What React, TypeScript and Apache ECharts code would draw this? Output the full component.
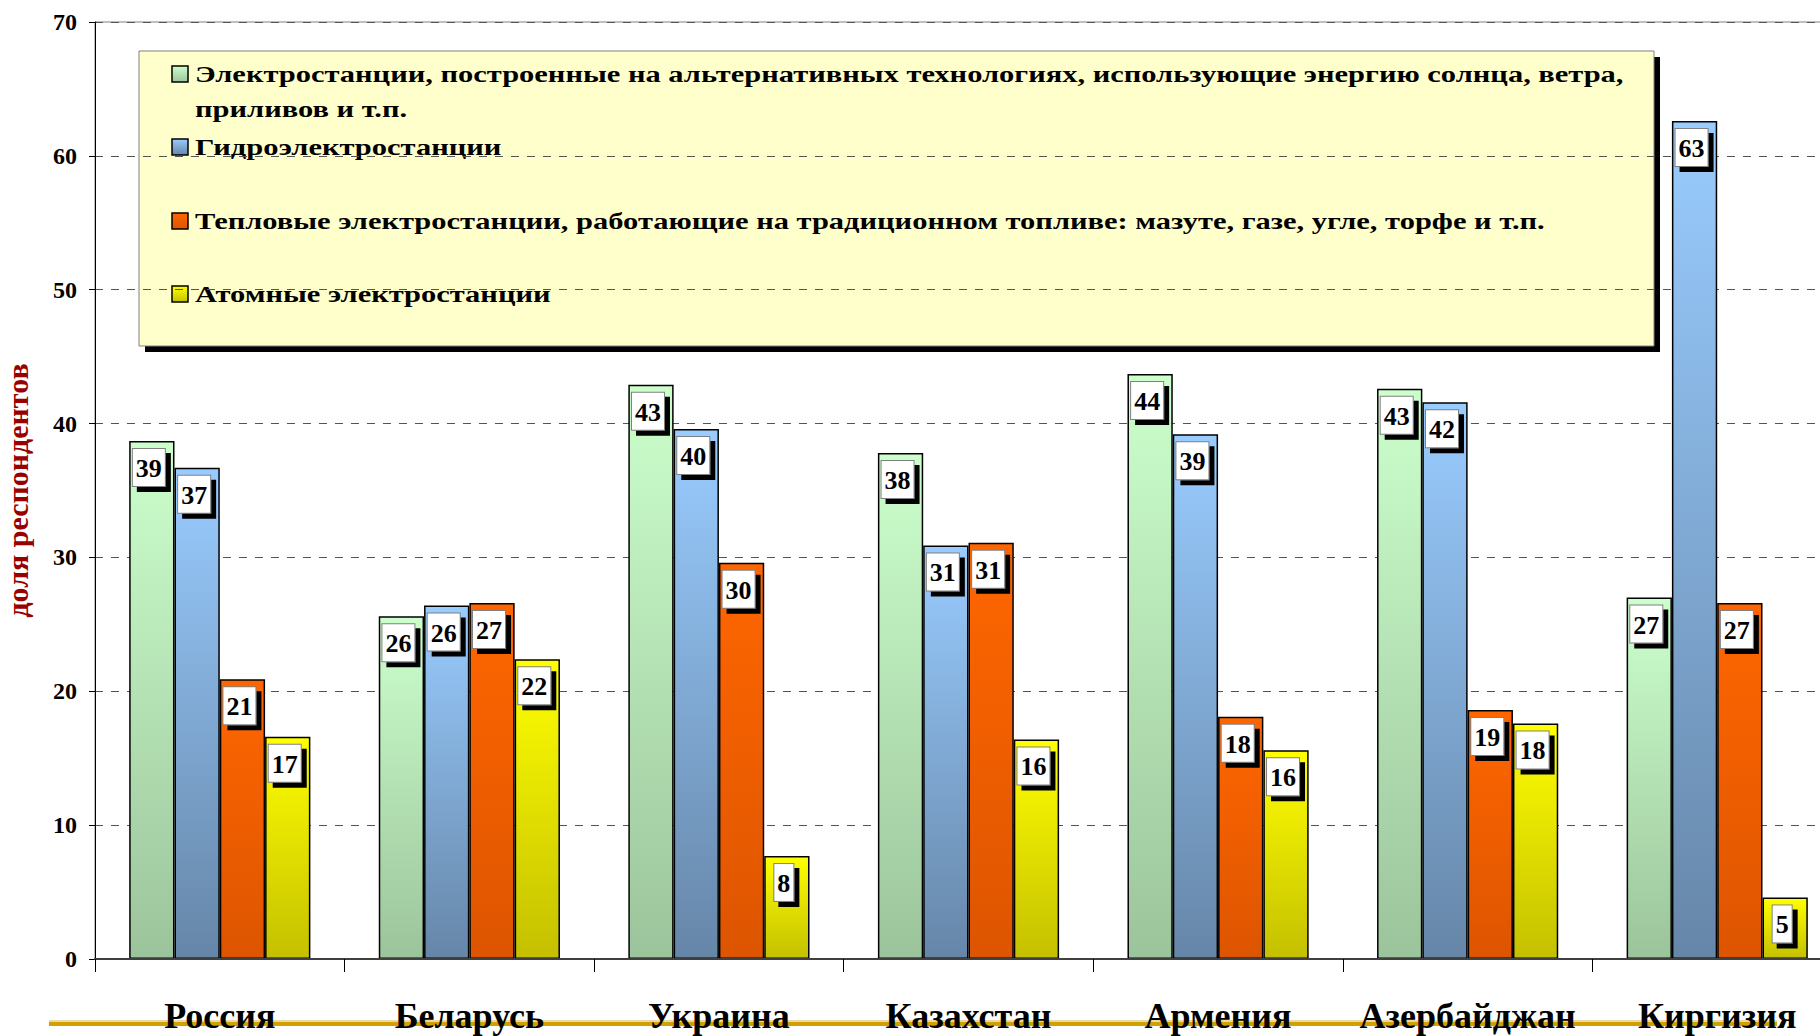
import React, { useEffect, useRef } from "react";
import * as echarts from "echarts";

const categories = ["Россия", "Беларусь", "Украина", "Казахстан", "Армения", "Азербайджан", "Киргизия"];
const seriesNames = [
  "Электростанции, построенные на альтернативных технологиях, использующие энергию солнца, ветра, приливов и т.п.",
  "Гидроэлектростанции",
  "Тепловые электростанции, работающие на традиционном топливе: мазуте, газе, угле, торфе и т.п.",
  "Атомные электростанции",
];
const legendLines = [
  ["Электростанции, построенные на альтернативных технологиях, использующие энергию солнца, ветра,", "приливов и т.п."],
  ["Гидроэлектростанции"],
  ["Тепловые электростанции, работающие на традиционном топливе: мазуте, газе, угле, торфе и т.п."],
  ["Атомные электростанции"],
];
const altValues = [38.7, 25.6, 42.9, 37.8, 43.7, 42.6, 27.0];
const hydroValues = [36.7, 26.4, 39.6, 30.9, 39.2, 41.6, 62.6];
const thermalValues = [20.9, 26.6, 29.6, 31.1, 18.1, 18.6, 26.6];
const nuclearValues = [16.6, 22.4, 7.7, 16.4, 15.6, 17.6, 4.6];
const yMin = 0;
const yMax = 70;
const yInterval = 10;
const yAxisName = "доля респондентов";

const gradients = [
  ["#CCFFCC", "#9CC49C"],
  ["#99CCFF", "#6686A8"],
  ["#FF6600", "#DD5500"],
  ["#FFFF00", "#C4C000"],
];

const FONT = "'Liberation Serif', 'Times New Roman', serif";

export default function App() {
  const ref = useRef<HTMLDivElement>(null);
  useEffect(() => {
    if (!ref.current) return;
    const chart = echarts.init(ref.current, null, { renderer: "svg" });
    const grad = (i: number) =>
      new echarts.graphic.LinearGradient(0, 0, 0, 1, [
        { offset: 0, color: gradients[i][0] },
        { offset: 1, color: gradients[i][1] },
      ]);
    const allValues = [altValues, hydroValues, thermalValues, nuclearValues];
    const series = allValues.map((vals, i) => ({
      name: seriesNames[i],
      type: "bar",
      data: vals,
      barGap: "0%",
      barCategoryGap: "27.4%",
      itemStyle: { color: grad(i), borderColor: "#000", borderWidth: 1.5 },
      label: {
        show: true,
        position: "insideTop",
        distance: 8,
        offset: [-3, 0],
        formatter: (p: any) => String(Math.round(p.value)),
        color: "#000",
        fontFamily: FONT,
        fontWeight: "bold",
        fontSize: 26,
        lineHeight: 31,
        textBorderWidth: 0,
        backgroundColor: "#fff",
        borderColor: "#808080",
        borderWidth: 1,
        padding: [4, 3, 2, 3],
        shadowColor: "#000",
        shadowOffsetX: 5,
        shadowOffsetY: 5,
        shadowBlur: 0,
      },
    }));

    const legendChildren: any[] = [
      { type: "rect", shape: { x: 145, y: 57, width: 1515, height: 295 }, style: { fill: "#000" } },
      { type: "rect", shape: { x: 139, y: 51, width: 1515, height: 295 }, style: { fill: "#FFFFCC", stroke: "#808080", lineWidth: 1 } },
    ];
    const itemY = [74, 147, 221, 294];
    legendLines.forEach((lines, i) => {
      legendChildren.push({
        type: "rect",
        shape: { x: 172, y: itemY[i] - 8, width: 16, height: 16 },
        style: { fill: grad(i), stroke: "#000", lineWidth: 1.5 },
      });
      lines.forEach((t, j) => {
        legendChildren.push({
          type: "text",
          x: 195,
          y: itemY[i] + j * 35,
          scaleX: 1.27,
          style: {
            text: t,
            fill: "#000",
            font: `bold 24px ${FONT}`,
            verticalAlign: "middle",
            align: "left",
          },
        });
      });
    });

    chart.setOption({
      animation: false,
      backgroundColor: "#fff",
      grid: {
        left: 95,
        top: 22,
        width: 1747,
        height: 937,
        outerBoundsMode: "none",
        containLabel: false,
        show: true,
        borderColor: "#808080",
        borderWidth: 1,
        backgroundColor: "transparent",
      },
      tooltip: { show: false },
      xAxis: {
        type: "category",
        data: categories,
        axisLine: { lineStyle: { color: "#404040", width: 2 } },
        axisTick: { show: true, interval: 0, length: 13, lineStyle: { color: "#000", width: 1 } },
        axisLabel: {
          interval: 0,
          margin: 39,
          color: "#000",
          fontFamily: FONT,
          fontWeight: "bold",
          fontSize: 36,
        },
        z: 5,
      },
      yAxis: {
        type: "value",
        min: yMin,
        max: yMax,
        interval: yInterval,
        name: yAxisName,
        nameLocation: "middle",
        nameGap: 63,
        nameTextStyle: {
          color: "#990000",
          fontFamily: FONT,
          fontWeight: "bold",
          fontSize: 30,
        },
        axisLine: { show: true, lineStyle: { color: "#000", width: 1 } },
        axisTick: { show: true, length: 6, lineStyle: { color: "#000" } },
        axisLabel: {
          margin: 18,
          color: "#000",
          fontFamily: FONT,
          fontWeight: "bold",
          fontSize: 24,
        },
        splitLine: { show: true, lineStyle: { color: "#555", type: [8, 8], width: 1 } },
      },
      graphic: [
        {
          type: "line",
          z: -1,
          shape: { x1: 49, y1: 1021, x2: 1777, y2: 1021 },
          style: { stroke: "#E8D9A8", lineWidth: 2 },
        },
        {
          type: "line",
          z: -1,
          shape: { x1: 49, y1: 1024, x2: 1777, y2: 1024 },
          style: { stroke: "#D4A000", lineWidth: 4 },
        },
        { type: "group", z: 100, children: legendChildren },
      ],
      series,
    });
    return () => chart.dispose();
  }, []);
  return <div ref={ref} style={{ width: 1820, height: 1036, position: "absolute", left: 0, top: 0 }} />;
}
